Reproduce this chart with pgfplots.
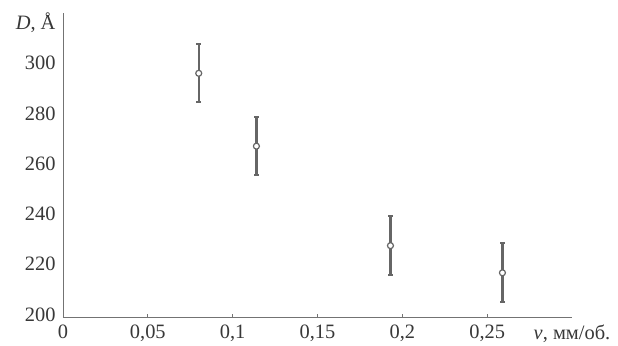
\documentclass[border=0pt]{standalone}
\usepackage{pgfplots}
\pgfplotsset{compat=1.18}
\usepackage{fontspec}
\setmainfont{Liberation Serif}
\begin{document}
\begin{tikzpicture}
\begin{axis}[
  scale only axis, width=509bp, height=304bp,
  xmin=0, xmax=0.3, ymin=199, ymax=320,
  axis lines=left,
  axis line style={-, draw=black!55, line width=0.9bp},
  xtick={0,0.05,0.1,0.15,0.2,0.25},
  xticklabels={0,{0,05},{0,1},{0,15},{0,2},{0,25}},
  ytick={200,220,240,260,280,300},
  extra x ticks={0.3}, extra x tick labels={\textit{v}{,} мм/об.},
  extra x tick style={major tick length=0pt},
  extra y ticks={316}, extra y tick labels={\textit{D}{,} Å},
  major tick length=3bp,
  x tick style={draw=black!55, line width=0.8bp},
  y tick style={draw=none},
  tick align=inside,
  tick label style={font=\rmfamily\fontsize{20.5}{23}\selectfont, text=black!78},
  x tick label style={yshift=-4bp},
  y tick label style={xshift=-4bp},
  /pgf/number format/assume math mode=true,
]
\addplot+[only marks, mark=*, color=black!60, mark size=3bp,
  mark options={fill=white, line width=1.2bp},
  error bars/.cd, y dir=both, y explicit,
  error bar style={line width=2.2bp, color=black!60},
  error mark options={rotate=90, mark size=2.4bp, line width=2bp, color=black!60}]
  table[x=x, y=y, y error=e] {
x y e
0.080 296 11.5
0.114 267 11.5
0.193 227.4 11.8
0.259 216.6 11.8
};
\end{axis}
\path[use as bounding box] ([xshift=-63bp,yshift=-29bp]current axis.south west) rectangle ++(618bp,346bp);
\end{tikzpicture}
\end{document}
